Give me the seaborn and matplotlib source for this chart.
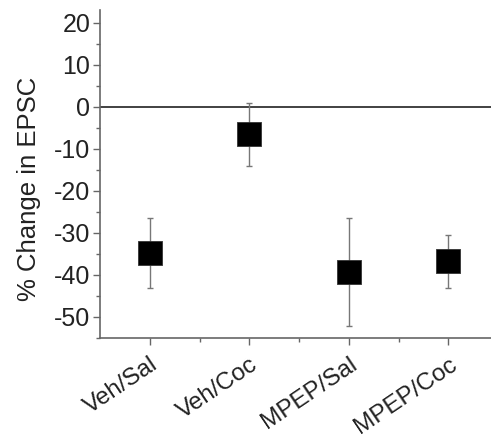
import matplotlib
matplotlib.use("Agg")
import matplotlib.pyplot as plt
import seaborn as sns
import numpy as np
import pandas as pd
from matplotlib.ticker import FixedLocator

groups = ["Veh/Sal", "Veh/Coc", "MPEP/Sal", "MPEP/Coc"]
means = [-34.8, -6.5, -39.3, -36.8]
errors = [8.4, 7.5, 12.8, 6.4]

sns.set_style("ticks")
plt.rcParams['font.family'] = ['Liberation Sans', 'DejaVu Sans']
plt.rcParams['axes.unicode_minus'] = False

df = pd.DataFrame({"group": groups, "mean": means, "err": errors})

fig = plt.figure(figsize=(4.91, 4.40), dpi=100)
ax = fig.add_axes([0.204, 0.232, 0.796, 0.745])

ax.errorbar(np.arange(len(groups)), df["mean"], yerr=df["err"], fmt='none',
            ecolor='#777777', elinewidth=1.0, capsize=2.5, capthick=1.0, zorder=2)
sns.scatterplot(data=df, x="group", y="mean", marker='s', s=300, color='black',
                edgecolor='#333333', linewidth=0.6, ax=ax, zorder=3, legend=False)

ax.axhline(0, color='#333333', linewidth=1.3, zorder=1)

ax.set_xlim(-0.5, 3.43)
ax.set_ylim(-55, 23)
ax.yaxis.set_major_locator(FixedLocator([-50, -40, -30, -20, -10, 0, 10, 20]))
ax.yaxis.set_minor_locator(FixedLocator([-55, -45, -35, -25, -15, -5, 5, 15]))
ax.set_xticks(range(len(groups)))
ax.set_xticklabels(groups, rotation=34, ha='right', rotation_mode='anchor', fontsize=17.5, color='#222222')
ax.xaxis.set_minor_locator(FixedLocator([0.5, 1.5, 2.5]))

for lab in ax.get_yticklabels():
    lab.set_fontsize(18)
    lab.set_color('#222222')

ax.tick_params(axis='both', which='major', length=5, width=1.0, color='#666666', pad=2)
ax.tick_params(axis='both', which='minor', length=3, width=1.0, color='#666666')
ax.tick_params(axis='x', which='major', pad=6)

for s in ['top', 'right']:
    ax.spines[s].set_visible(False)
for s in ['left', 'bottom']:
    ax.spines[s].set_color('#666666')
    ax.spines[s].set_linewidth(1.2)

ax.set_xlabel("")
ax.set_ylabel("% Change in EPSC", fontsize=18.5, color='#222222')
ax.yaxis.set_label_coords(-0.152, 0.455)

fig.savefig("out.png", dpi=100)
